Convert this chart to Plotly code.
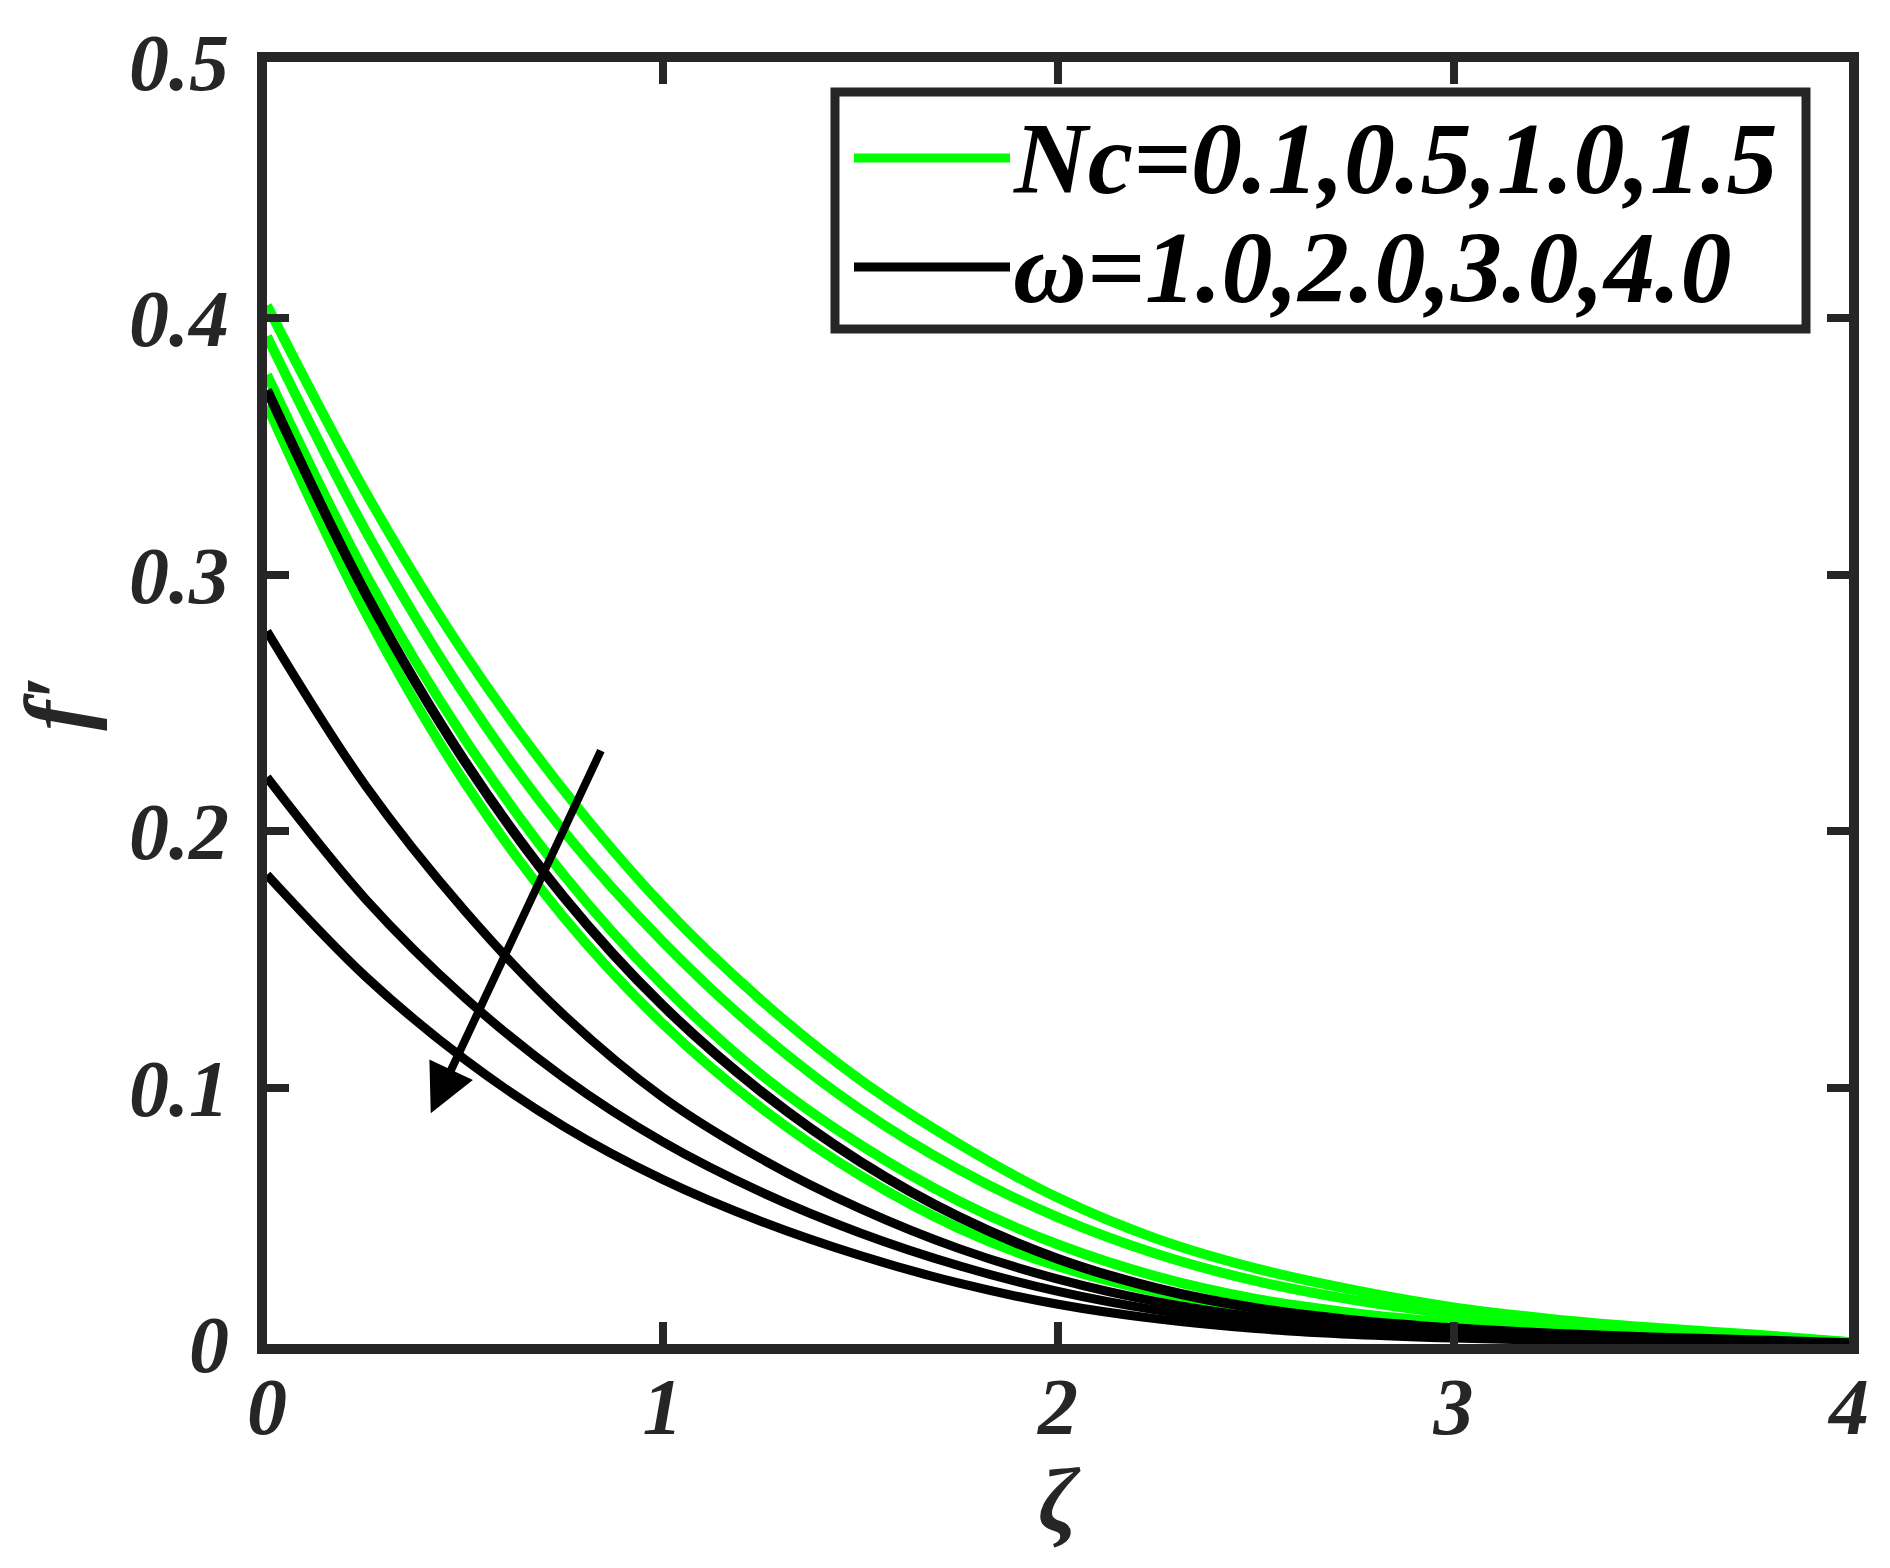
import plotly.graph_objects as go

# ---------------- data ----------------
zeta = [0.0, 0.25, 0.5, 0.75, 1.0, 1.25, 1.5, 1.75, 2.0, 2.25, 2.5, 2.75, 3.0, 3.25, 3.5, 3.75, 4.0]

# f' profiles for Nc = 0.1, 0.5, 1.0, 1.5 (green)
nc_01 = [0.405, 0.332, 0.269, 0.216, 0.171, 0.134, 0.103, 0.078, 0.057, 0.041, 0.0295, 0.021, 0.0143, 0.0097, 0.0064, 0.0038, 0.0008]
nc_05 = [0.393, 0.317, 0.253, 0.200, 0.157, 0.121, 0.0915, 0.068, 0.0494, 0.0351, 0.0246, 0.0171, 0.0117, 0.0079, 0.0052, 0.0032, 0.0007]
nc_10 = [0.378, 0.300, 0.236, 0.183, 0.140, 0.105, 0.0777, 0.0557, 0.0388, 0.0263, 0.0176, 0.0120, 0.0082, 0.0056, 0.0037, 0.0023, 0.0005]
nc_15 = [0.366, 0.285, 0.219, 0.1665, 0.125, 0.092, 0.0657, 0.0451, 0.0303, 0.0203, 0.0139, 0.0098, 0.0070, 0.0049, 0.0033, 0.0020, 0.0004]

# f' profiles for omega = 1.0, 2.0, 3.0, 4.0 (black)
om_1 = [0.372, 0.2926, 0.2273, 0.1744, 0.1321, 0.0984, 0.0711, 0.0495, 0.0332, 0.0217, 0.0140, 0.0092, 0.0061, 0.0040, 0.0025, 0.0015, 0.0003]
om_2 = [0.278, 0.2176, 0.169, 0.1284, 0.0963, 0.0722, 0.0528, 0.0372, 0.0253, 0.0165, 0.0105, 0.0067, 0.0044, 0.0028, 0.0018, 0.0011, 0.0002]
om_3 = [0.221, 0.1734, 0.1351, 0.1039, 0.0789, 0.0592, 0.0433, 0.0305, 0.0205, 0.0132, 0.0083, 0.0052, 0.0033, 0.0021, 0.0013, 0.0008, 0.0001]
om_4 = [0.183, 0.1432, 0.1110, 0.0849, 0.0642, 0.0478, 0.0345, 0.0237, 0.0155, 0.0098, 0.0060, 0.0037, 0.0023, 0.0014, 0.0009, 0.0005, 0.0001]

green_series = [nc_01, nc_05, nc_10, nc_15]
black_series = [om_1, om_2, om_3, om_4]

x_ticks = [0, 1, 2, 3, 4]
x_ticktext = ["0", "1", "2", "3", "4"]
y_ticks = [0, 0.1, 0.2, 0.3, 0.4, 0.5]
y_ticktext = ["0", "0.1", "0.2", "0.3", "0.4", "0.5"]

legend_labels = ["Nc=0.1,0.5,1.0,1.5", "ω=1.0,2.0,3.0,4.0"]

# arrow (tail -> head) in data coordinates
arrow_tail = (0.846, 0.232)
arrow_head = (0.414, 0.090)

# ---------------- figure ----------------
W, H = 1890, 1568
L, R, T, B = 259, 1841, 54, 1336  # plot area in pixels
AX = "#262626"
FONT = "Liberation Serif"


def px_x(p):
    return (p - L) / (R - L)


def px_y(p):
    return (B - p) / (B - T)


fig = go.Figure()

for ys in green_series:
    fig.add_trace(go.Scatter(x=zeta, y=ys, mode="lines", line=dict(color="#00FF00", width=10),
                             line_shape="spline", showlegend=False, name=legend_labels[0]))
for i, ys in enumerate(black_series):
    fig.add_trace(go.Scatter(x=zeta, y=ys, mode="lines",
                             line=dict(color="#000000", width=10 if i == 0 else 9),
                             line_shape="spline", showlegend=False, name=legend_labels[1]))

tickfont = dict(family=FONT, size=80, color=AX, weight="bold", style="italic")
axis_common = dict(showline=True, linewidth=10, linecolor=AX, mirror="ticks", ticks="inside",
                   ticklen=22, tickwidth=8, tickcolor=AX, showgrid=False, zeroline=False,
                   tickfont=tickfont)

fig.update_xaxes(range=[0, 4], tickvals=x_ticks, ticktext=x_ticktext, ticklabelstandoff=-16,
                 title=dict(text="ζ", font=dict(family=FONT, size=90, color=AX, weight="bold", style="italic"),
                            standoff=19),
                 **axis_common)
fig.update_yaxes(range=[0, 0.5], tickvals=y_ticks, ticktext=y_ticktext, ticklabelstandoff=12,
                 title=dict(text="f′", font=dict(family=FONT, size=90, color=AX, weight="bold", style="italic"),
                            standoff=32),
                 **axis_common)

shapes = []
annotations = []

# legend box (manual, to match the long sample lines)
shapes.append(dict(type="rect", xref="paper", yref="paper",
                   x0=px_x(827), x1=px_x(1798), y0=px_y(321), y1=px_y(84),
                   line=dict(color=AX, width=9), fillcolor="white", layer="above"))
legend_rows = [(150, "#00FF00", legend_labels[0]), (259, "#000000", legend_labels[1])]
for yy, col, txt in legend_rows:
    shapes.append(dict(type="line", xref="paper", yref="paper",
                       x0=px_x(846), x1=px_x(1002), y0=px_y(yy), y1=px_y(yy),
                       line=dict(color=col, width=9), layer="above"))
    annotations.append(dict(xref="paper", yref="paper", x=px_x(1003), y=px_y(yy),
                            xanchor="left", yanchor="middle", text=txt, showarrow=False,
                            font=dict(family=FONT, size=102, color="#000000", weight="bold", style="italic")))

# arrow indicating increasing parameters
annotations.append(dict(x=arrow_head[0], y=arrow_head[1], ax=arrow_tail[0], ay=arrow_tail[1],
                        xref="x", yref="y", axref="x", ayref="y", text="", showarrow=True,
                        arrowhead=2, arrowsize=1.2, arrowwidth=8, arrowcolor="#000000"))

fig.update_layout(width=W, height=H, margin=dict(l=L, r=W - R, t=T, b=H - B, pad=0),
                  plot_bgcolor="white", paper_bgcolor="white",
                  shapes=shapes, annotations=annotations, showlegend=False,
                  font=dict(family=FONT, color=AX))

fig.write_html("out.html")
